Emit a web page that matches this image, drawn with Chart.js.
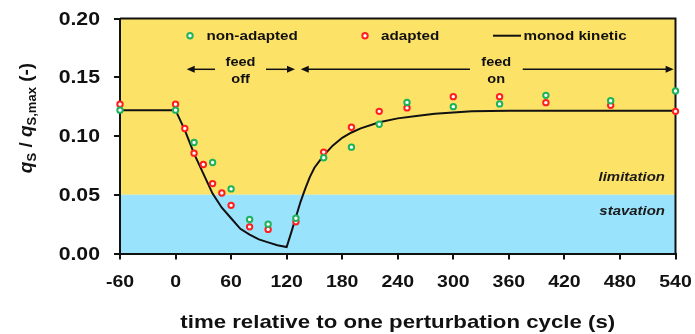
<!DOCTYPE html>
<html lang="en">
<head>
<meta charset="UTF-8">
<title>Substrate uptake during one perturbation cycle</title>
<script src="https://cdn.jsdelivr.net/npm/chart.js"></script>
<style>
  html, body { margin: 0; padding: 0; background: #fff; }
  #wrap { width: 695px; height: 334px; position: relative; }
</style>
</head>
<body>
<div id="wrap"><canvas id="uptakeChart"></canvas></div>
<script>
// measured qS/qS,max, non-adapted culture
const nonAdaptedTime = [-60, 0, 20, 40, 60, 80, 100, 130, 160, 190, 220, 250, 300, 350, 400, 470, 540];
const nonAdaptedQs = [0.122, 0.122, 0.0945, 0.0775, 0.055, 0.029, 0.025, 0.030, 0.0815, 0.0905, 0.110, 0.1286, 0.125, 0.1273, 0.1346, 0.130, 0.1383];

// measured qS/qS,max, adapted culture
const adaptedTime = [-60, 0, 10, 20, 30, 40, 50, 60, 80, 100, 130, 160, 190, 220, 250, 300, 350, 400, 470, 540];
const adaptedQs = [0.127, 0.127, 0.1064, 0.0854, 0.0758, 0.0595, 0.0515, 0.041, 0.0227, 0.0205, 0.027, 0.0863, 0.1075, 0.121, 0.1239, 0.1335, 0.1335, 0.1284, 0.1261, 0.121];

// monod kinetic model
const monodTime = [-60, 0, 10, 20, 30, 40, 50, 60, 70, 80, 90, 100, 110, 120,
  125, 130, 135, 140, 145, 150, 160, 170, 180, 190, 200, 220, 240, 260, 280, 300, 320, 360, 420, 480, 540];
const monodQs = [0.122, 0.122, 0.105, 0.085, 0.068, 0.051, 0.039, 0.030, 0.021, 0.016, 0.012, 0.0095, 0.007, 0.0055,
  0.018, 0.031, 0.044, 0.055, 0.065, 0.073, 0.0835, 0.092, 0.0985, 0.103, 0.1065, 0.1117, 0.115, 0.117, 0.119, 0.120, 0.121, 0.1215, 0.1215, 0.1215, 0.1215];

const xTickValues = [-60, 0, 60, 120, 180, 240, 300, 360, 420, 480, 540];
const xTickLabels = ['-60', '0', '60', '120', '180', '240', '300', '360', '420', '480', '540'];
const yTickValues = [0, 0.05, 0.10, 0.15, 0.20];
const yTickLabels = ['0.00', '0.05', '0.10', '0.15', '0.20'];

const limitThreshold = 0.05;

const GREEN = '#1DB35A';
const RED = '#FF1F1F';
const INK = '#111';
const FONT = '"Liberation Sans", Arial, sans-serif';
const SX = 1.18; // lettering is drawn slightly wide

function toPoints(xs, ys) {
  return xs.map((x, i) => ({ x: x, y: ys[i] }));
}

function wideText(ctx, text, x, y, align, sx) {
  ctx.save();
  ctx.translate(x, y);
  ctx.scale(sx || SX, 1);
  ctx.textAlign = align;
  ctx.fillText(text, 0, 0);
  ctx.restore();
}

function marker(ctx, x, y, color) {
  ctx.beginPath();
  ctx.arc(x, y, 2.7, 0, Math.PI * 2);
  ctx.fillStyle = '#fff';
  ctx.fill();
  ctx.lineWidth = 2;
  ctx.strokeStyle = color;
  ctx.stroke();
}

function arrow(ctx, xTail, xTip, y) {
  const dir = xTip > xTail ? 1 : -1;
  ctx.beginPath();
  ctx.moveTo(xTail, y);
  ctx.lineTo(xTip - dir * 5, y);
  ctx.lineWidth = 1.5;
  ctx.strokeStyle = INK;
  ctx.stroke();
  ctx.beginPath();
  ctx.moveTo(xTip, y);
  ctx.lineTo(xTip - dir * 8, y - 3.5);
  ctx.lineTo(xTip - dir * 8, y + 3.5);
  ctx.closePath();
  ctx.fillStyle = INK;
  ctx.fill();
}

// yellow limitation zone over the blue starvation zone
const zones = {
  id: 'zones',
  beforeDraw(chart) {
    const { ctx, chartArea: a, scales } = chart;
    const yCut = scales.y.getPixelForValue(limitThreshold);
    ctx.save();
    ctx.fillStyle = '#FDE268';
    ctx.fillRect(a.left, a.top, a.right - a.left, yCut - a.top);
    ctx.fillStyle = '#99E3FD';
    ctx.fillRect(a.left, yCut, a.right - a.left, a.bottom - yCut);
    ctx.restore();
  }
};

// phase arrows sit between these times
const feedOff = { tip1: 12, tail1: 42.6, mid: 70.2, tail2: 97.7, tip2: 129 };
const feedOn = { tip1: 135.2, tail1: 318, mid: 346.4, tail2: 375, tip2: 538 };

const decorations = {
  id: 'decorations',
  beforeDatasetsDraw(chart) {
    const { ctx, chartArea: a } = chart;
    // top and right frame
    ctx.save();
    ctx.strokeStyle = INK;
    ctx.lineWidth = 2;
    ctx.beginPath();
    ctx.moveTo(a.left, a.top);
    ctx.lineTo(a.right, a.top);
    ctx.lineTo(a.right, a.bottom);
    ctx.stroke();
    ctx.restore();
  },
  afterDraw(chart) {
    const { ctx, chartArea: a, scales } = chart;
    const xs = scales.x, ys = scales.y;
    ctx.save();

    ctx.fillStyle = INK;
    ctx.textBaseline = 'alphabetic';

    // tick labels
    ctx.font = 'bold 18px ' + FONT;
    yTickValues.forEach((v, i) => wideText(ctx, yTickLabels[i], 100, ys.getPixelForValue(v) + 6, 'right'));
    ctx.font = 'bold 16.5px ' + FONT;
    xTickValues.forEach((v, i) => wideText(ctx, xTickLabels[i], xs.getPixelForValue(v), 287, 'center'));

    // x title
    ctx.font = 'bold 19px ' + FONT;
    wideText(ctx, 'time relative to one perturbation cycle (s)', (a.left + a.right) / 2, 328, 'center', 1.17);

    // y title, built from pieces for the italic q and subscripts
    const parts = [
      { t: 'q', f: 'italic bold 19px ' + FONT, dy: 0 },
      { t: 'S', f: 'bold 13px ' + FONT, dy: 4 },
      { t: ' / ', f: 'bold 19px ' + FONT, dy: 0 },
      { t: 'q', f: 'italic bold 19px ' + FONT, dy: 0 },
      { t: 'S,max', f: 'bold 13px ' + FONT, dy: 4 },
      { t: ' (-)', f: 'bold 19px ' + FONT, dy: 0 }
    ];
    let total = 0;
    parts.forEach(p => { ctx.font = p.f; p.w = ctx.measureText(p.t).width; total += p.w; });
    ctx.save();
    ctx.translate(32, 118);
    ctx.rotate(-Math.PI / 2);
    ctx.textAlign = 'left';
    let cx = -total / 2;
    parts.forEach(p => { ctx.font = p.f; ctx.fillText(p.t, cx, p.dy); cx += p.w; });
    ctx.restore();

    // legend
    ctx.font = 'bold 13px ' + FONT;
    marker(ctx, 190, 35.7, GREEN);
    ctx.fillStyle = INK;
    wideText(ctx, 'non-adapted', 206.5, 40.3, 'left', 1.17);
    marker(ctx, 365, 35.7, RED);
    ctx.fillStyle = INK;
    wideText(ctx, 'adapted', 381, 40.3, 'left', 1.17);
    ctx.beginPath();
    ctx.moveTo(493, 35.7);
    ctx.lineTo(521, 35.7);
    ctx.lineWidth = 2;
    ctx.strokeStyle = INK;
    ctx.stroke();
    wideText(ctx, 'monod kinetic', 523.5, 40.3, 'left', 1.17);

    // feed phases
    const ay = 69.3;
    [[feedOff, 'off'], [feedOn, 'on']].forEach(([ph, word]) => {
      arrow(ctx, xs.getPixelForValue(ph.tail1), xs.getPixelForValue(ph.tip1), ay);
      arrow(ctx, xs.getPixelForValue(ph.tail2), xs.getPixelForValue(ph.tip2), ay);
      const mx = xs.getPixelForValue(ph.mid);
      ctx.fillStyle = INK;
      ctx.font = 'bold 13px ' + FONT;
      wideText(ctx, 'feed', mx, 66.3, 'center', 1.12);
      wideText(ctx, word, mx, 82.7, 'center', 1.12);
    });

    // zone names
    ctx.fillStyle = '#1a1a1a';
    ctx.font = 'italic bold 13px ' + FONT;
    wideText(ctx, 'limitation', 665, 181.3, 'right', 1.15);
    wideText(ctx, 'stavation', 665, 215, 'right', 1.15);

    ctx.restore();
  }
};

const axisStyle = {
  grid: { drawOnChartArea: false, drawTicks: true, tickLength: 6, color: INK, lineWidth: 2 },
  border: { color: INK, width: 2 }
};

new Chart(document.getElementById('uptakeChart'), {
  type: 'scatter',
  data: {
    datasets: [
      {
        label: 'non-adapted',
        data: toPoints(nonAdaptedTime, nonAdaptedQs),
        showLine: false,
        clip: false,
        pointRadius: 2.7,
        pointBorderWidth: 2,
        pointBackgroundColor: '#fff',
        pointBorderColor: GREEN
      },
      {
        label: 'adapted',
        data: toPoints(adaptedTime, adaptedQs),
        showLine: false,
        clip: false,
        pointRadius: 2.7,
        pointBorderWidth: 2,
        pointBackgroundColor: '#fff',
        pointBorderColor: RED
      },
      {
        label: 'monod kinetic',
        data: toPoints(monodTime, monodQs),
        showLine: true,
        borderColor: INK,
        borderWidth: 2,
        pointRadius: 0,
        tension: 0
      }
    ]
  },
  options: {
    responsive: true,
    maintainAspectRatio: false,
    animation: false,
    layout: { padding: { top: 18.5, right: 19.5, left: 0, bottom: 0 } },
    plugins: { legend: { display: false }, tooltip: { enabled: false } },
    scales: {
      x: {
        type: 'linear',
        min: -60,
        max: 540,
        ticks: { stepSize: 60, display: false },
        afterFit(scale) { scale.height = 80.5; },
        ...axisStyle
      },
      y: {
        min: 0,
        max: 0.2,
        ticks: { stepSize: 0.05, display: false },
        afterFit(scale) { scale.width = 120; },
        ...axisStyle
      }
    }
  },
  plugins: [zones, decorations]
});
</script>
</body>
</html>
